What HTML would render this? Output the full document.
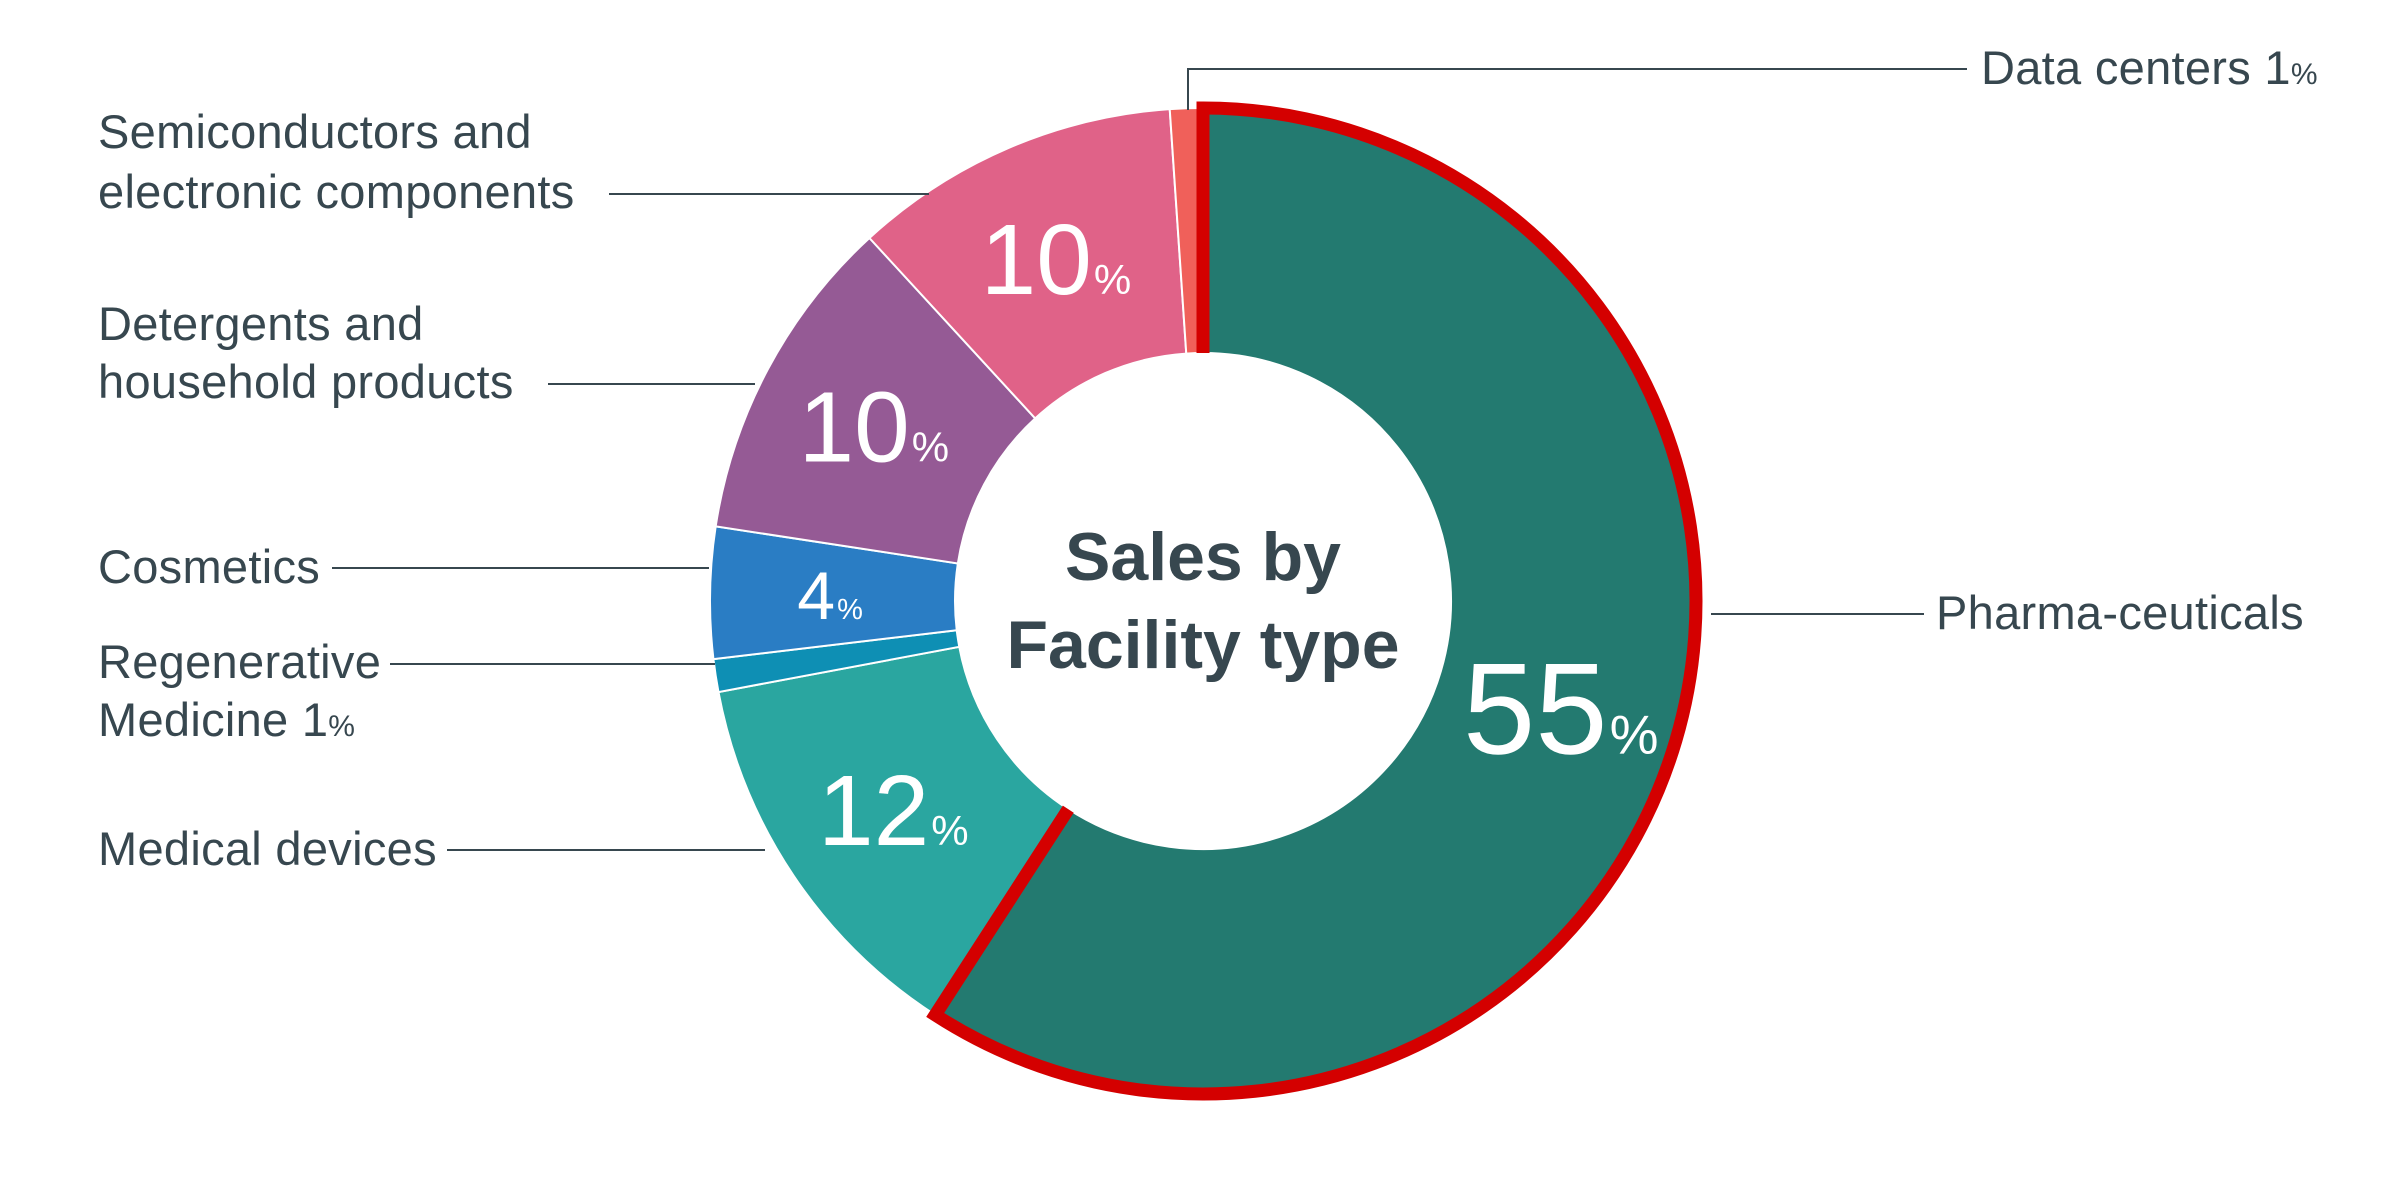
<!DOCTYPE html>
<html><head><meta charset="utf-8"><style>
html,body{margin:0;padding:0;background:#fff;}
svg{display:block;font-family:"Liberation Sans",sans-serif;}
.lbl{font-size:47px;fill:#37474f;letter-spacing:0.3px;}
.ln{stroke:#37474f;stroke-width:2;fill:none;}
</style></head><body>
<svg id="chart" width="2400" height="1200" viewBox="0 0 2400 1200">
<g id="slices"></g>
<g id="pcts"></g>
<g>
<text x="1203" y="580" text-anchor="middle" font-size="68" font-weight="bold" fill="#37474f">Sales by</text>
<text x="1203" y="668" text-anchor="middle" font-size="68" font-weight="bold" fill="#37474f">Facility type</text>
</g>
<g>
<polyline class="ln" points="1188,110 1188,69 1967,69"/>
<text class="lbl" x="1981" y="84">Data centers 1<tspan font-size="30">%</tspan></text>
<line class="ln" x1="609" y1="194" x2="929" y2="194"/>
<text class="lbl" x="98" y="148">Semiconductors and</text>
<text class="lbl" x="98" y="208">electronic components</text>
<line class="ln" x1="548" y1="384" x2="755" y2="384"/>
<text class="lbl" x="98" y="340">Detergents and</text>
<text class="lbl" x="98" y="398">household products</text>
<line class="ln" x1="332" y1="568" x2="709" y2="568"/>
<text class="lbl" x="98" y="583">Cosmetics</text>
<line class="ln" x1="390" y1="664" x2="715" y2="664"/>
<text class="lbl" x="98" y="678">Regenerative</text>
<text class="lbl" x="98" y="736">Medicine 1<tspan font-size="30">%</tspan></text>
<line class="ln" x1="447" y1="850" x2="765" y2="850"/>
<text class="lbl" x="98" y="865">Medical devices</text>
<line class="ln" x1="1711" y1="614" x2="1924" y2="614"/>
<text class="lbl" x="1936" y="629">Pharma-ceuticals</text>
</g>
</svg>
<script>
const categories = ["Pharma-ceuticals","Medical devices","Regenerative Medicine","Cosmetics","Detergents and household products","Semiconductors and electronic components","Data centers"];
const values = [55,12,1,4,10,10,1];
const colors = ["#237a70","#2aa6a0","#0e8fb4","#2a7dc4","#955a95","#e06288","#f0605a"];
const shownLabels = [true,true,false,true,true,true,false];

const cx=1203, cy=601, R=493, r=248, midR=373;
const NS="http://www.w3.org/2000/svg";
const total=values.reduce((a,b)=>a+b,0);
function pt(angDeg,rad){const a=angDeg*Math.PI/180;return [cx+rad*Math.sin(a), cy-rad*Math.cos(a)];}
function arcPath(a0,a1){
  const large=(a1-a0)>180?1:0;
  const p0=pt(a0,R),p1=pt(a1,R),q1=pt(a1,r),q0=pt(a0,r);
  return `M${p0[0]},${p0[1]} A${R},${R} 0 ${large} 1 ${p1[0]},${p1[1]} L${q1[0]},${q1[1]} A${r},${r} 0 ${large} 0 ${q0[0]},${q0[1]} Z`;
}
function outlinePath(a0,a1){
  const large=(a1-a0)>180?1:0;
  const p0=pt(a0,R),p1=pt(a1,R),q1=pt(a1,r),q0=pt(a0,r);
  return `M${q0[0]},${q0[1]} L${p0[0]},${p0[1]} A${R},${R} 0 ${large} 1 ${p1[0]},${p1[1]} L${q1[0]},${q1[1]}`;
}
const gs=document.getElementById('slices'), gp=document.getElementById('pcts');
let ang=0; let hl=null;
values.forEach((v,i)=>{
  const a0=ang, a1=ang+v/total*360; ang=a1;
  const p=document.createElementNS(NS,'path');
  p.setAttribute('d',arcPath(a0,a1));
  p.setAttribute('fill',colors[i]);
  p.setAttribute('stroke','#fff');
  p.setAttribute('stroke-width','2');
  
  
  gs.appendChild(p);
  if(i===0){hl=outlinePath(a0,a1);}
  if(shownLabels[i]){
    const m=pt((a0+a1)/2,midR);
    const fs = v>=50?130:(v>=8?100:68);
    const t=document.createElementNS(NS,'text');
    t.setAttribute('x',m[0]); t.setAttribute('y',m[1]+fs*0.36);
    t.setAttribute('text-anchor','middle');
    t.setAttribute('fill','#fff');
    t.setAttribute('font-size',fs);
    
    
    t.textContent=v;
    const s=document.createElementNS(NS,'tspan');
    s.setAttribute('font-size',Math.round(fs*0.42));
    s.setAttribute('dx','2');
    s.textContent='%';
    t.appendChild(s);
    gp.appendChild(t);
  }
});
const o=document.createElementNS(NS,'path');
o.setAttribute('d',hl);
o.setAttribute('fill','none');
o.setAttribute('stroke','#d40000');
o.setAttribute('stroke-width','13');
o.setAttribute('stroke-linejoin','miter');


gs.appendChild(o);
</script>
</body></html>
